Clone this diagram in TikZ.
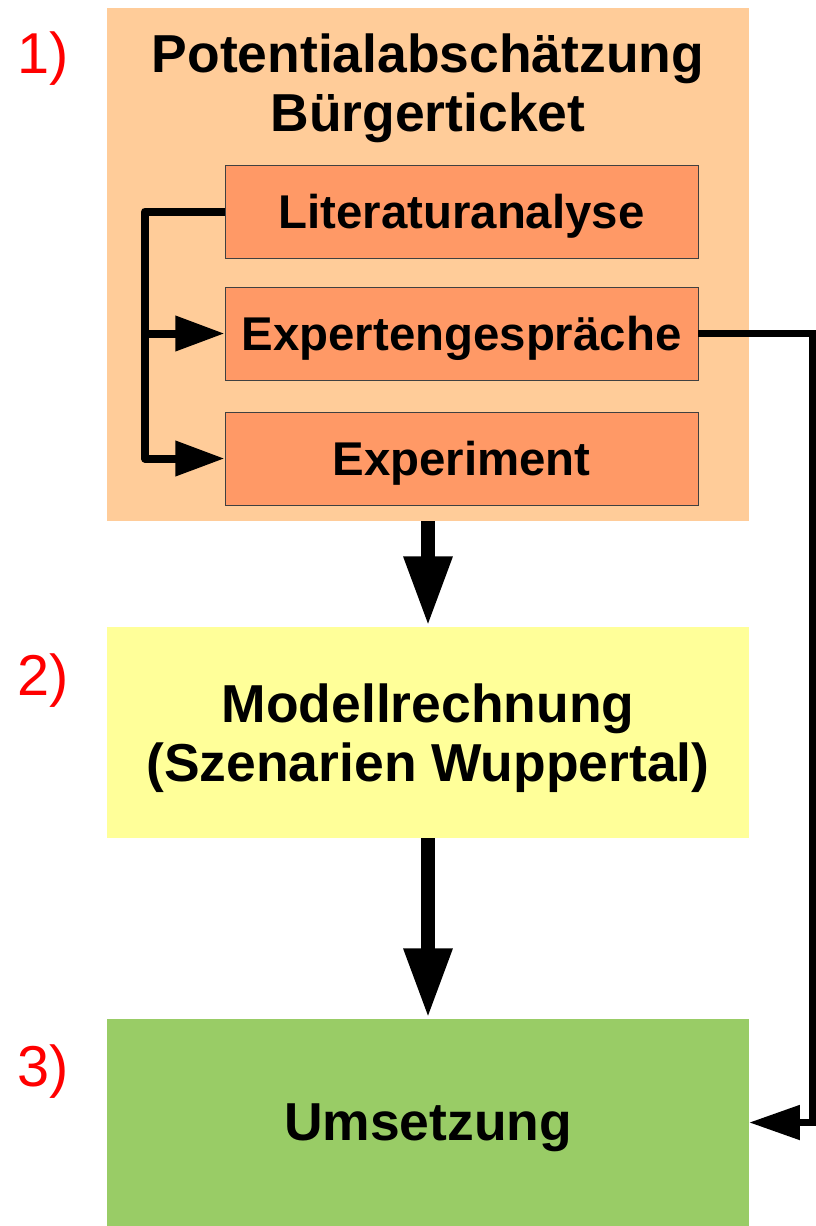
\documentclass[tikz,border=0pt]{standalone}
\usepackage{fontspec}
\setmainfont{Liberation Sans}
\usepackage{xcolor}
\usepackage{tikz}
\usetikzlibrary{arrows.meta}
\definecolor{peach}{HTML}{FFCC99}
\definecolor{apricot}{HTML}{FF9966}
\definecolor{paleyel}{HTML}{FFFF99}
\definecolor{leaf}{HTML}{99CC66}

\begin{document}
\begin{tikzpicture}[x=0.025cm,y=-0.025cm,
  stage/.style={minimum width=16.05cm,inner sep=0pt,align=center,text depth=0pt,
    font=\bfseries\fontsize{38}{42}\selectfont},
  sub/.style={draw=black!75,line width=0.6pt,fill=apricot,minimum width=11.825cm,
    minimum height=2.325cm,inner sep=0pt,text depth=0pt,
    font=\bfseries\fontsize{33.7}{38}\selectfont},
  num/.style={anchor=base,text=red,font=\fontsize{41}{45}\selectfont},
  brk/.style={line width=5.7pt,line join=round,-{Triangle[length=35pt,width=24pt]}},
  side/.style={line width=4.3pt,-{Triangle[length=36pt,width=24pt]}},
  big/.style={line width=10.6pt,-{Triangle[length=50pt,width=32pt]}}]
  \useasboundingbox (0,0) rectangle (816,1226);
  % three stages, stacked
  \node[stage,fill=peach,minimum height=12.825cm] (b1) at (428,264.5) {};
  \node[stage] (t1) at (428,83) {Potentialabschätzung\\Bürgerticket};
  \node[stage,fill=paleyel,minimum height=5.275cm] (b2) at (428,732.5)
    {Modellrechnung\\(Szenarien Wuppertal)};
  \node[stage,fill=leaf,minimum height=5.175cm] (b3) at (428,1122.5) {Umsetzung};
  \node[num] (n1) at (43,73) {1)};
  \node[num] (n2) at (43,695) {2)};
  \node[num] (n3) at (43,1086) {3)};
  \node[sub] (lit) at (461.5,211.5) {Literaturanalyse};
  \node[sub] (eg)  at (461.5,333.5) {Expertengespräche};
  \node[sub] (exp) at (461.5,458.5) {Experiment};
  \coordinate (bl) at (145,211.5);
  \draw[brk] (lit.west) -- (bl) |- (exp.west);
  \draw[brk] (bl |- eg.west) -- (eg.west);
  \draw[side] (eg.east) -- ++(114,0) |- (b3.east);
  \draw[big] (b1.south) -- (b2.north);
  \draw[big] (b2.south) -- (b3.north);
\end{tikzpicture}
\end{document}
